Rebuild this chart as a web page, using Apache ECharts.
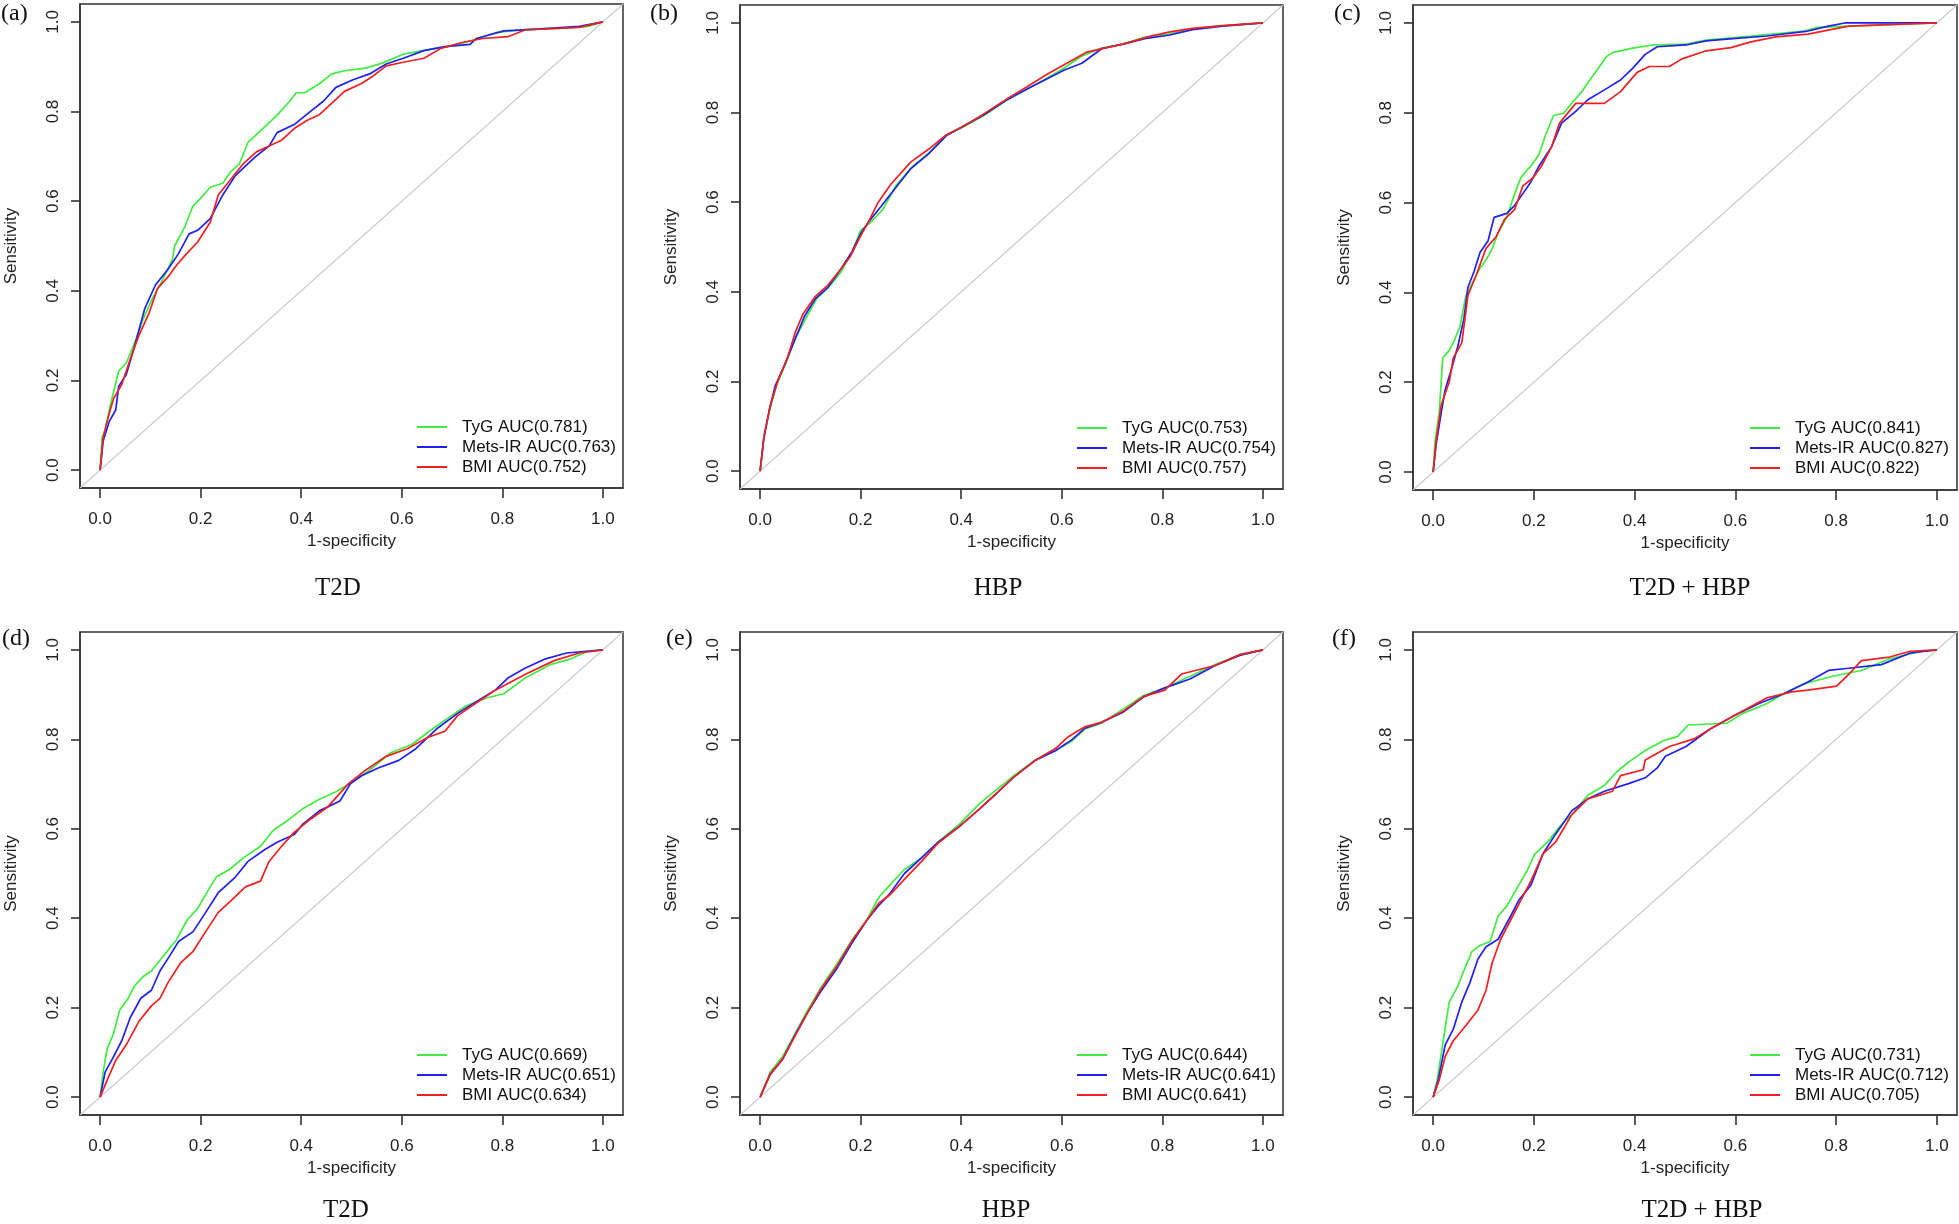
<!DOCTYPE html>
<html>
<head>
<meta charset="utf-8">
<script src="https://cdn.jsdelivr.net/npm/echarts@6/dist/echarts.min.js"></script>
<style>
html,body{margin:0;padding:0;background:#fff;}
#chart{width:1959px;height:1224px;}
</style>
</head>
<body>
<div id="chart"></div>
<script>
// ---------- data ----------
const panelLabels = ['(a)', '(b)', '(c)', '(d)', '(e)', '(f)'];
const panelTitles = ['T2D', 'HBP', 'T2D + HBP', 'T2D', 'HBP', 'T2D + HBP'];
const seriesNames = ['TyG', 'Mets-IR', 'BMI'];
const tickValues = [0, 0.2, 0.4, 0.6, 0.8, 1.0];
const aucTyG  = [0.781, 0.753, 0.841, 0.669, 0.644, 0.731];
const aucMets = [0.763, 0.754, 0.827, 0.651, 0.641, 0.712];
const aucBMI  = [0.752, 0.757, 0.822, 0.634, 0.641, 0.705];
const diagonal = [[-0.04, -0.04], [1.04, 1.04]];

// (a) T2D
const tygA = [[0,0],[.004,.073],[.01,.09],[.02,.143],[.037,.221],[.052,.239],[.068,.282],[.085,.335],[.102,.378],[.123,.422],[.144,.47],[.148,.5],[.169,.544],[.184,.588],[.202,.609],[.219,.631],[.244,.64],[.26,.666],[.277,.683],[.294,.731],[.319,.757],[.352,.792],[.377,.823],[.39,.842],[.407,.842],[.436,.862],[.461,.884],[.486,.891],[.528,.897],[.561,.908],[.603,.928],[.653,.938],[.701,.947],[.751,.962],[.786,.976],[.853,.984],[.92,.986],[.97,.99],[1,1]];
const metsA = [[0,0],[.006,.065],[.018,.108],[.031,.134],[.037,.187],[.052,.213],[.068,.274],[.089,.361],[.11,.413],[.135,.448],[.156,.483],[.177,.527],[.194,.535],[.219,.561],[.244,.614],[.269,.657],[.294,.684],[.311,.701],[.336,.723],[.352,.753],[.386,.771],[.419,.801],[.444,.823],[.469,.854],[.503,.871],[.536,.884],[.569,.906],[.603,.919],[.644,.936],[.686,.945],[.736,.95],[.748,.963],[.803,.98],[.87,.984],[.953,.99],[1,1]];
const bmiA  = [[0,0],[.006,.073],[.018,.126],[.027,.16],[.043,.191],[.06,.248],[.077,.3],[.098,.352],[.114,.405],[.135,.431],[.152,.457],[.169,.479],[.194,.509],[.219,.553],[.235,.614],[.26,.649],[.285,.684],[.311,.71],[.336,.723],[.361,.736],[.386,.762],[.411,.78],[.436,.793],[.461,.819],[.486,.845],[.519,.862],[.544,.88],[.569,.902],[.603,.91],[.644,.919],[.678,.941],[.72,.954],[.761,.963],[.811,.967],[.845,.982],[.953,.988],[1,1]];

// (b) HBP
const tygB  = [[0,0],[.008,.079],[.02,.14],[.033,.193],[.053,.245],[.07,.297],[.091,.341],[.112,.384],[.137,.411],[.162,.446],[.183,.489],[.2,.537],[.22,.555],[.245,.585],[.27,.637],[.304,.681],[.337,.711],[.371,.75],[.404,.768],[.446,.794],[.487,.825],[.529,.851],[.571,.877],[.604,.899],[.638,.925],[.679,.944],[.721,.953],[.763,.968],[.813,.975],[.855,.986],[.913,.993],[1,1]];
const metsB = [[0,0],[.007,.07],[.018,.135],[.03,.19],[.05,.24],[.068,.29],[.088,.345],[.11,.385],[.135,.41],[.16,.45],[.183,.49],[.2,.53],[.215,.555],[.24,.59],[.268,.63],[.3,.675],[.335,.708],[.37,.748],[.405,.77],[.445,.795],[.49,.828],[.53,.852],[.57,.875],[.605,.895],[.64,.91],[.68,.943],[.72,.952],[.765,.965],[.815,.973],[.86,.985],[.92,.993],[1,1]];
const bmiB  = [[0,0],[.008,.08],[.02,.145],[.035,.2],[.055,.255],[.07,.31],[.085,.35],[.11,.39],[.135,.415],[.16,.45],[.18,.48],[.2,.525],[.215,.555],[.235,.6],[.26,.64],[.3,.69],[.335,.718],[.37,.75],[.405,.77],[.445,.797],[.49,.83],[.53,.857],[.57,.885],[.61,.91],[.65,.935],[.69,.945],[.73,.955],[.775,.97],[.815,.98],[.86,.988],[.92,.994],[1,1]];

// (c) T2D + HBP
const tygC  = [[0,0],[.004,.071],[.012,.132],[.019,.254],[.032,.271],[.04,.288],[.053,.323],[.065,.393],[.081,.428],[.093,.454],[.105,.472],[.117,.497],[.129,.532],[.146,.567],[.162,.62],[.174,.655],[.186,.672],[.194,.681],[.21,.707],[.223,.75],[.239,.794],[.259,.799],[.275,.821],[.295,.847],[.311,.873],[.328,.899],[.344,.925],[.356,.934],[.396,.944],[.437,.951],[.502,.953],[.542,.962],[.631,.971],[.736,.982],[.761,.99],[.825,.993],[1,1]];
const metsC = [[0,0],[.006,.062],[.016,.132],[.024,.184],[.036,.228],[.049,.28],[.061,.341],[.069,.411],[.081,.446],[.093,.489],[.109,.515],[.121,.567],[.146,.576],[.162,.594],[.178,.62],[.194,.646],[.21,.681],[.235,.724],[.255,.777],[.283,.803],[.307,.829],[.34,.851],[.372,.873],[.396,.899],[.421,.93],[.445,.947],[.502,.951],[.542,.96],[.583,.964],[.663,.971],[.744,.982],[.785,.993],[.817,1],[1,1]];
const bmiC  = [[0,0],[.006,.071],[.016,.149],[.032,.201],[.04,.254],[.057,.288],[.069,.393],[.085,.437],[.105,.498],[.125,.524],[.142,.563],[.162,.585],[.178,.637],[.198,.655],[.215,.681],[.235,.724],[.251,.777],[.283,.821],[.34,.821],[.372,.847],[.405,.89],[.429,.903],[.469,.903],[.494,.92],[.542,.938],[.591,.945],[.631,.958],[.68,.969],[.744,.975],[.825,.993],[1,1]];

// (d) T2D
const tygD  = [[0,0],[.006,.056],[.014,.108],[.027,.143],[.039,.195],[.056,.221],[.068,.248],[.085,.269],[.102,.282],[.127,.317],[.152,.352],[.173,.396],[.194,.422],[.219,.47],[.231,.492],[.257,.509],[.285,.535],[.319,.561],[.344,.596],[.377,.622],[.402,.644],[.436,.666],[.469,.683],[.503,.705],[.536,.731],[.578,.77],[.619,.788],[.661,.823],[.694,.849],[.728,.875],[.77,.893],[.803,.902],[.845,.937],[.895,.967],[.936,.98],[.97,.997],[1,1]];
const metsD = [[0,0],[.01,.056],[.027,.091],[.043,.126],[.06,.178],[.081,.221],[.102,.239],[.119,.282],[.139,.317],[.156,.348],[.185,.37],[.21,.413],[.235,.457],[.269,.492],[.294,.527],[.327,.553],[.352,.57],[.386,.587],[.402,.609],[.436,.64],[.477,.662],[.498,.701],[.519,.718],[.553,.736],[.594,.753],[.628,.779],[.669,.823],[.711,.858],[.761,.893],[.786,.91],[.811,.937],[.845,.959],[.886,.98],[.928,.993],[1,1]];
const bmiD  = [[0,0],[.014,.038],[.031,.082],[.052,.117],[.077,.169],[.102,.204],[.119,.221],[.135,.256],[.16,.3],[.185,.326],[.21,.37],[.235,.413],[.26,.439],[.289,.47],[.319,.483],[.336,.527],[.361,.561],[.386,.592],[.419,.622],[.452,.648],[.494,.701],[.528,.731],[.569,.762],[.611,.779],[.653,.805],[.686,.818],[.711,.853],[.745,.879],[.786,.91],[.845,.945],[.903,.976],[.953,.993],[1,1]];

// (e) HBP
const tygE  = [[0,0],[.02,.056],[.045,.091],[.07,.143],[.095,.195],[.12,.243],[.154,.3],[.183,.352],[.212,.396],[.237,.448],[.258,.474],[.287,.509],[.321,.535],[.354,.57],[.396,.61],[.437,.657],[.471,.688],[.504,.718],[.546,.753],[.588,.775],[.621,.797],[.646,.823],[.679,.836],[.721,.867],[.763,.898],[.805,.915],[.855,.941],[.905,.967],[.955,.989],[1,1]];
const metsE = [[0,0],[.02,.05],[.045,.085],[.07,.14],[.095,.19],[.12,.235],[.154,.29],[.183,.345],[.212,.395],[.237,.43],[.258,.455],[.287,.5],[.321,.535],[.354,.57],[.396,.605],[.437,.645],[.471,.68],[.504,.715],[.546,.752],[.588,.775],[.621,.8],[.646,.825],[.679,.838],[.721,.86],[.763,.895],[.805,.915],[.855,.935],[.905,.965],[.955,.988],[1,1]];
const bmiE  = [[0,0],[.02,.052],[.045,.085],[.07,.138],[.095,.19],[.12,.24],[.154,.295],[.183,.35],[.212,.395],[.237,.435],[.258,.452],[.287,.487],[.321,.527],[.354,.568],[.396,.605],[.437,.645],[.471,.68],[.504,.715],[.546,.752],[.588,.78],[.613,.806],[.646,.828],[.679,.838],[.721,.862],[.763,.896],[.805,.91],[.838,.946],[.905,.965],[.955,.99],[1,1]];

// (f) T2D + HBP
const tygF  = [[0,0],[.008,.038],[.02,.126],[.032,.213],[.049,.248],[.061,.283],[.077,.326],[.093,.339],[.113,.348],[.129,.405],[.146,.427],[.17,.474],[.186,.505],[.202,.544],[.227,.57],[.251,.605],[.275,.631],[.307,.675],[.34,.697],[.364,.727],[.388,.749],[.421,.775],[.457,.797],[.485,.806],[.506,.832],[.583,.836],[.615,.858],[.663,.88],[.696,.902],[.736,.924],[.793,.941],[.85,.954],[.906,.98],[.97,.997],[1,1]];
const metsF = [[0,0],[.01,.038],[.024,.117],[.04,.152],[.057,.213],[.073,.256],[.089,.309],[.105,.336],[.129,.353],[.154,.405],[.17,.44],[.194,.474],[.218,.544],[.243,.588],[.275,.64],[.307,.667],[.34,.684],[.388,.701],[.421,.714],[.445,.736],[.461,.762],[.502,.784],[.55,.823],[.599,.854],[.647,.88],[.696,.902],[.744,.928],[.785,.954],[.825,.959],[.89,.967],[.947,.993],[1,1]];
const bmiF  = [[0,0],[.012,.038],[.024,.091],[.04,.126],[.065,.16],[.089,.195],[.105,.239],[.117,.3],[.134,.353],[.154,.396],[.174,.44],[.194,.483],[.218,.544],[.243,.57],[.275,.631],[.307,.667],[.356,.684],[.372,.719],[.417,.732],[.421,.754],[.469,.784],[.518,.801],[.55,.823],[.599,.854],[.663,.893],[.712,.906],[.744,.91],[.801,.919],[.825,.945],[.85,.976],[.906,.984],[.947,.997],[1,1]];

const tygData  = [tygA, tygB, tygC, tygD, tygE, tygF];
const metsData = [metsA, metsB, metsC, metsD, metsE, metsF];
const bmiData  = [bmiA, bmiB, bmiC, bmiD, bmiE, bmiF];

// ---------- layout ----------
const colors = ['#40ec40', '#2020f0', '#f02020'];
const axisColor = '#333';
const sans = 'Liberation Sans, Arial, sans-serif';
const serif = 'Liberation Serif, Times New Roman, serif';
const gridBoxes = [
  {left: 80,   top: 4,   width: 543, height: 484},
  {left: 740,  top: 5,   width: 543, height: 484},
  {left: 1413, top: 5,   width: 544, height: 485},
  {left: 80,   top: 632, width: 543, height: 483},
  {left: 740,  top: 632, width: 543, height: 483},
  {left: 1413, top: 632, width: 544, height: 483}
];
const labelPos = [[1, 15], [650, 15], [1334, 15], [2, 640], [666, 640], [1332, 640]];
const titlePos = [[338, 588], [998, 588], [1690, 588], [346, 1210], [1006, 1210], [1702, 1210]];

const grids = [], xAxes = [], yAxes = [], series = [], legends = [], graphics = [];
gridBoxes.forEach((g, i) => {
  grids.push({left: g.left, top: g.top, width: g.width, height: g.height,
    show: true, borderColor: axisColor, borderWidth: 1.5, backgroundColor: 'transparent'});
  xAxes.push({type: 'value', gridIndex: i, min: -0.04, max: 1.04, position: 'bottom',
    axisLine: {show: true, onZero: false, lineStyle: {color: axisColor, width: 1.5}}, splitLine: {show: false},
    axisTick: {show: true, customValues: tickValues, length: 10, inside: false, lineStyle: {color: axisColor, width: 1.6}},
    axisLabel: {show: true, customValues: tickValues, formatter: v => v.toFixed(1), fontFamily: sans, fontSize: 17, color: '#222', margin: 23},
    name: '1-specificity', nameLocation: 'middle', nameGap: 45,
    nameTextStyle: {fontFamily: sans, fontSize: 17, color: '#222'}});
  yAxes.push({type: 'value', gridIndex: i, min: -0.04, max: 1.04, position: 'left',
    axisLine: {show: true, onZero: false, lineStyle: {color: axisColor, width: 1.5}}, splitLine: {show: false},
    axisTick: {show: true, customValues: tickValues, length: 9, inside: false, lineStyle: {color: axisColor, width: 1.6}},
    axisLabel: {show: true, customValues: tickValues, formatter: v => v.toFixed(1), rotate: 90, fontFamily: sans, fontSize: 17, color: '#222', margin: 18},
    name: 'Sensitivity', nameLocation: 'middle', nameGap: 60,
    nameTextStyle: {fontFamily: sans, fontSize: 17, color: '#222'}});
  series.push({type: 'line', name: 'ref' + i, xAxisIndex: i, yAxisIndex: i, data: diagonal,
    symbol: 'none', silent: true, lineStyle: {color: '#cccccc', width: 1.2}, z: 1});
  const names = [
    'TyG AUC(' + aucTyG[i].toFixed(3) + ')',
    'Mets-IR AUC(' + aucMets[i].toFixed(3) + ')',
    'BMI AUC(' + aucBMI[i].toFixed(3) + ')'
  ];
  [tygData[i], metsData[i], bmiData[i]].forEach((d, k) => {
    series.push({type: 'line', name: names[k], xAxisIndex: i, yAxisIndex: i, data: d,
      symbol: 'none', showSymbol: false, color: colors[k],
      lineStyle: {color: colors[k], width: 1.7}, z: 2 + k});
  });
  legends.push({data: names, orient: 'vertical', left: g.left + 337, top: g.top + 413,
    padding: 0, itemGap: 0, itemWidth: 30, itemHeight: 2, icon: 'rect', selectedMode: false,
    textStyle: {fontFamily: sans, fontSize: 17, color: '#111', lineHeight: 20, padding: [0, 0, 0, 10]}});
  graphics.push({type: 'text', left: labelPos[i][0], top: labelPos[i][1] - 13,
    style: {text: panelLabels[i], font: '24px ' + serif, fill: '#111'}});
  graphics.push({type: 'text', x: titlePos[i][0], y: titlePos[i][1],
    style: {text: panelTitles[i], font: '25px ' + serif, fill: '#111', textAlign: 'center', textVerticalAlign: 'middle'}});
});

const chart = echarts.init(document.getElementById('chart'), null, {renderer: 'canvas'});
chart.setOption({
  backgroundColor: '#ffffff',
  animation: false,
  grid: grids,
  xAxis: xAxes,
  yAxis: yAxes,
  legend: legends,
  series: series,
  graphic: graphics
});
</script>
</body>
</html>
